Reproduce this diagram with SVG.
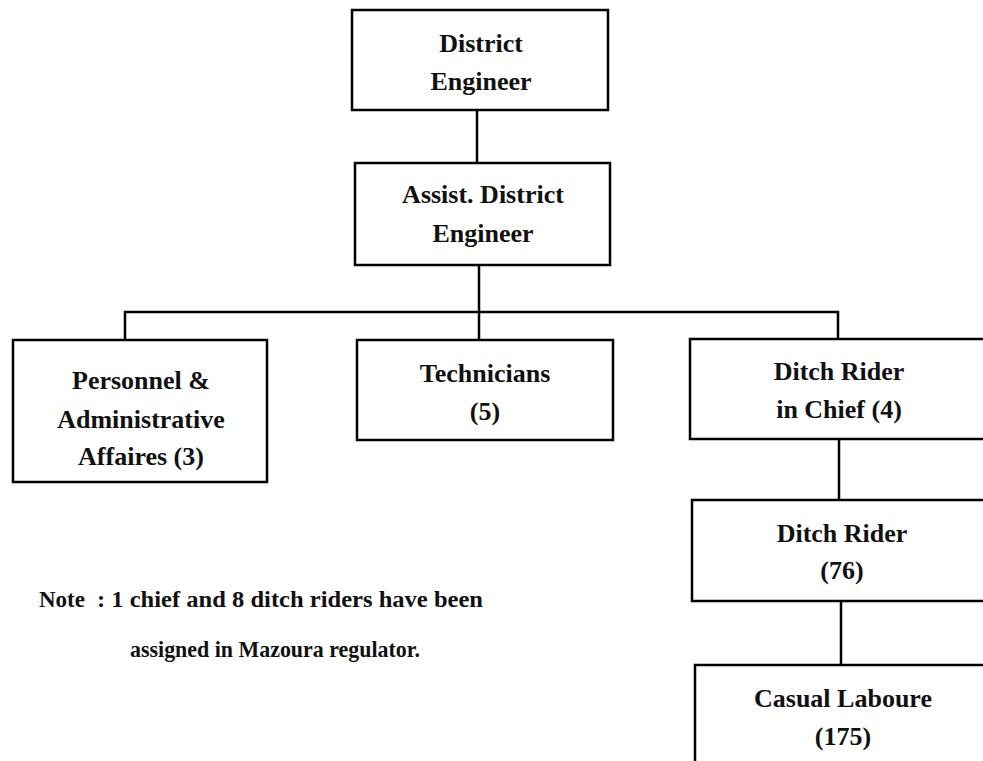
<svg xmlns="http://www.w3.org/2000/svg" width="983" height="761" viewBox="0 0 983 761">
<style>
.box{fill:#fff;stroke:#000;stroke-width:2.5}
.ln{fill:none;stroke:#000;stroke-width:2.5}
.t{font-family:"Liberation Serif","DejaVu Serif",serif;font-size:26px;font-weight:bold;fill:#111;text-anchor:middle}
.n{font-family:"Liberation Serif","DejaVu Serif",serif;font-size:23px;font-weight:bold;fill:#111}
</style>
<rect width="983" height="761" fill="#fff"/>
<g id="connectors">
<path class="ln" d="M477 110V163"/>
<path class="ln" d="M479 265V340"/>
<path class="ln" d="M125 340V312H838V339"/>
<path class="ln" d="M839 439V500"/>
<path class="ln" d="M841 601V665"/>
</g>
<g id="district-engineer">
<rect class="box" x="352" y="10" width="256" height="100"/>
<text class="t" x="481" y="52">District</text>
<text class="t" x="481" y="90">Engineer</text>
</g>
<g id="assist-district-engineer">
<rect class="box" x="355" y="163" width="255" height="102"/>
<text class="t" x="483" y="203">Assist. District</text>
<text class="t" x="483" y="242">Engineer</text>
</g>
<g id="personnel">
<rect class="box" x="13" y="340" width="254" height="142"/>
<text class="t" x="141" y="389">Personnel &amp;</text>
<text class="t" x="141" y="428">Administrative</text>
<text class="t" x="141" y="465">Affaires (3)</text>
</g>
<g id="technicians">
<rect class="box" x="357" y="340" width="256" height="100"/>
<text class="t" x="485" y="382">Technicians</text>
<text class="t" x="485" y="420">(5)</text>
</g>
<g id="ditch-rider-chief">
<rect class="box" x="690" y="339" width="310" height="100"/>
<text class="t" x="839" y="380">Ditch Rider</text>
<text class="t" x="839" y="418">in Chief (4)</text>
</g>
<g id="ditch-rider">
<rect class="box" x="692" y="500" width="310" height="101"/>
<text class="t" x="842" y="542">Ditch Rider</text>
<text class="t" x="842" y="579">(76)</text>
</g>
<g id="casual-labour">
<rect class="box" x="695" y="665" width="310" height="120"/>
<text class="t" x="843" y="707">Casual Laboure</text>
<text class="t" x="843" y="745">(175)</text>
</g>
<g id="note">
<text class="n" x="39" y="607">Note</text>
<text class="n" x="97" y="607" textLength="386" lengthAdjust="spacingAndGlyphs">: 1 chief and 8 ditch riders have been</text>
<text class="n" x="130" y="657" textLength="290" lengthAdjust="spacingAndGlyphs">assigned in Mazoura regulator.</text>
</g>
</svg>
